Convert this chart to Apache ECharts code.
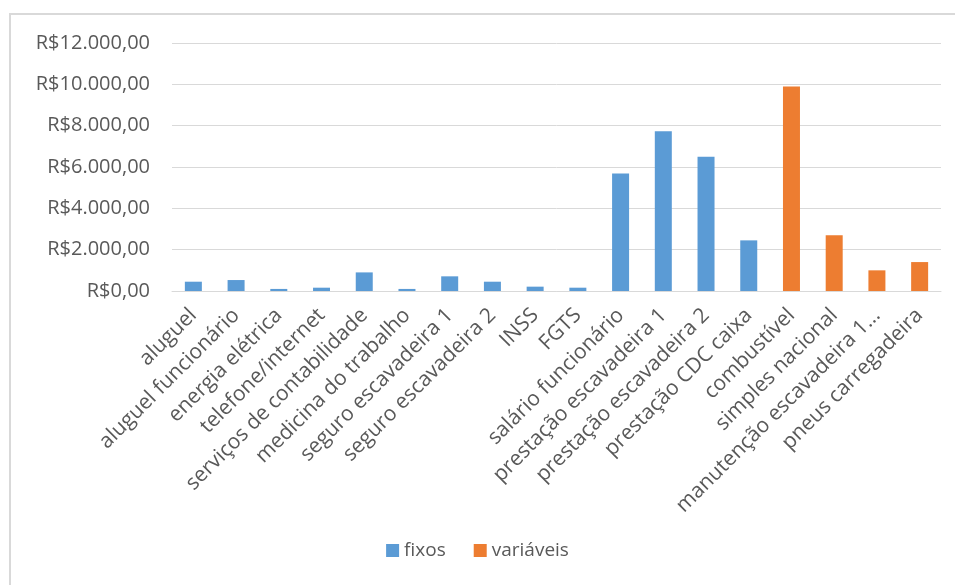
<!DOCTYPE html>
<html>
<head>
<meta charset="utf-8">
<script src="https://cdn.jsdelivr.net/npm/echarts@6/dist/echarts.min.js"></script>
<style>
  html, body { margin: 0; padding: 0; background: #fff; }
  #frame { position: absolute; left: 9px; top: 13px; width: 1000px; height: 600px;
           border-left: 2px solid #d9d9d9; border-top: 2px solid #d9d9d9; }
  #main { position: absolute; left: 0; top: 0; width: 955px; height: 585px; }
</style>
</head>
<body>
<div id="frame"></div>
<div id="main"></div>
<script>
// categorias de custo
const categories = [
  'aluguel', 'aluguel funcionário', 'energia elétrica', 'telefone/internet',
  'serviços de contabilidade', 'medicina do trabalho', 'seguro escavadeira 1',
  'seguro escavadeira 2', 'INSS', 'FGTS', 'salário funcionário',
  'prestação escavadeira 1', 'prestação escavadeira 2', 'prestação CDC caixa',
  'combustível', 'simples nacional', 'manutenção escavadeira 1...', 'pneus carregadeira'
];
// custos fixos (null = sem valor)
const fixos = [450, 530, 100, 160, 900, 100, 710, 450, 210, 160,
  5680, 7730, 6500, 2450, null, null, null, null];
// custos variáveis
const variaveis = [null, null, null, null, null, null, null, null, null, null,
  null, null, null, null, 9900, 2700, 1000, 1400];
const yTicks = { min: 0, max: 12000, interval: 2000 };

function brl(v) {
  const s = v.toFixed(2).split('.');
  const inteiro = s[0].replace(/\B(?=(\d{3})+(?!\d))/g, '.');
  return 'R$' + inteiro + ',' + s[1];
}

const chart = echarts.init(document.getElementById('main'));
const txt = '#595959';
const font = 'Open Sans';

chart.setOption({
  animation: false,
  color: ['#5b9bd5', '#ed7d31'],
  textStyle: { fontFamily: font },
  grid: { left: 172, right: 14, top: 43, bottom: 294 },
  legend: {
    bottom: 20,
    left: 'center',
    icon: 'rect',
    itemWidth: 13,
    itemHeight: 13,
    itemGap: 28,
    itemStyle: { borderWidth: 0 },
    textStyle: { color: txt, fontSize: 19, fontFamily: font },
    data: ['fixos', 'variáveis']
  },
  xAxis: {
    type: 'category',
    data: categories,
    axisLine: { lineStyle: { color: '#d9d9d9', width: 1 } },
    axisTick: { show: false },
    axisLabel: {
      interval: 0,
      rotate: 45,
      margin: 21,
      color: txt,
      fontSize: 21,
      fontFamily: font
    }
  },
  yAxis: {
    type: 'value',
    min: yTicks.min,
    max: yTicks.max,
    interval: yTicks.interval,
    axisLine: { show: false },
    axisTick: { show: false },
    splitLine: { lineStyle: { color: '#d9d9d9', width: 1 } },
    axisLabel: {
      color: txt,
      fontSize: 20,
      fontFamily: font,
      margin: 22,
      formatter: brl
    }
  },
  series: [
    { name: 'fixos', type: 'bar', stack: 'total', barWidth: 17, data: fixos },
    { name: 'variáveis', type: 'bar', stack: 'total', barWidth: 17, data: variaveis }
  ]
});
</script>
</body>
</html>
